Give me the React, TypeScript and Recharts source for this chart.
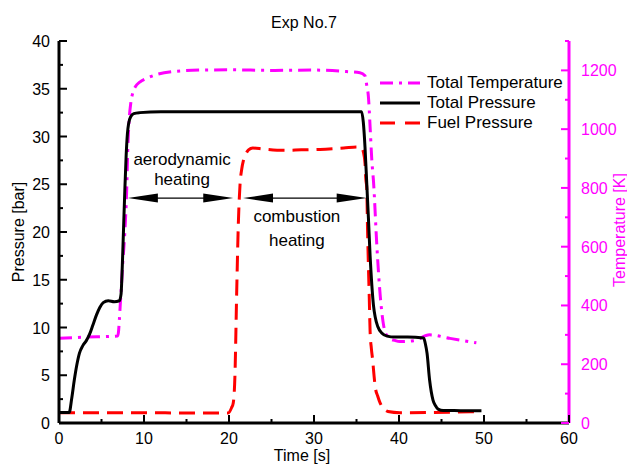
import React from "react";
import { LineChart, Line, XAxis, YAxis, ReferenceLine } from "recharts";

const FONT = "'Liberation Sans', Arial, sans-serif";
const MAGENTA = "#ff00ff";
const RED = "#ff0000";

// Total pressure [bar] vs time [s]
const pressureTime = [
  0, 1.2, 1.5, 1.8, 2.1, 2.4, 2.8, 3.2, 3.6, 4.0, 4.4, 4.8, 5.2, 5.8, 6.5, 7.1,
  7.3, 7.45, 7.6, 7.75, 7.9, 8.05, 8.2, 8.45, 8.8, 9.5, 12, 18, 24, 30, 35.6,
  35.8, 36.0, 36.2, 36.4, 36.6, 36.8, 37.0, 37.2, 37.5, 38.0, 38.6, 39.5, 41,
  42.9, 43.1, 43.3, 43.6, 44.0, 44.3, 44.6, 45.2, 46.5, 48, 49.7,
];
const pressureValue = [
  1.1, 1.1, 2.6, 4.5, 6.1, 7.3, 8.1, 8.6, 9.3, 10.3, 11.3, 12.1, 12.6, 12.8,
  12.7, 12.8, 13.5, 16.5, 20.5, 24.5, 28.0, 30.3, 31.4, 32.1, 32.4, 32.5, 32.6,
  32.6, 32.6, 32.6, 32.6, 31.5, 28.9, 25.2, 21.5, 17.5, 14.5, 12.3, 11.1, 10.1,
  9.4, 9.1, 9.0, 9.0, 8.9, 8.3, 7.3, 4.5, 2.4, 1.8, 1.45, 1.3, 1.3, 1.28, 1.28,
];

// Total temperature [K] vs time [s]
const tempTime = [
  0, 3, 6.9, 7.0, 7.1, 7.2, 7.35, 7.5, 7.65, 7.8, 7.95, 8.1, 8.25, 8.45, 8.7,
  9.0, 9.5, 10.3, 11.5, 13.4, 16.6, 20, 25, 30, 33.8, 35.4, 36.0, 36.2, 36.4,
  36.6, 36.8, 37.0, 37.4, 37.8, 38.15, 38.35, 38.7, 38.9, 39.5, 40.1, 41.7,
  43.6, 46.0, 49.1,
];
const tempValue = [
  288, 292, 296, 310, 350, 400, 470, 545, 605, 680, 780, 940, 1030, 1090, 1125,
  1145, 1160, 1173, 1186, 1196, 1201, 1202, 1200, 1201, 1196, 1192, 1182, 1150,
  1111, 1008, 895, 822, 600, 430, 339, 311, 294, 288, 281, 277, 280, 300, 288,
  273,
];

// Fuel pressure [bar] vs time [s]
const fuelTime = [
  0, 5, 10, 15, 19.9, 20.3, 20.5, 20.7, 20.9, 21.1, 21.3, 21.5, 21.7, 22.0,
  22.3, 22.8, 24, 26.4, 28.5, 30.7, 33.5, 35.2, 35.6, 35.8, 36.0, 36.1, 36.2,
  36.3, 36.4, 36.5, 36.6, 36.75, 36.9, 37.05, 37.2, 37.5, 37.8, 38.2, 38.7,
  40.1, 44, 47, 49.5,
];
const fuelValue = [
  1.08, 1.08, 1.08, 1.05, 1.05, 1.6, 2.1, 5.0, 13.5, 20.9, 25.0, 26.6, 27.5,
  28.2, 28.6, 28.8, 28.7, 28.55, 28.6, 28.65, 28.8, 28.9, 28.8, 28.4, 27.2,
  25.5, 24.7, 20.2, 16.5, 13.2, 9.6, 7.8, 6.6, 5.1, 3.8, 2.8, 2.06, 1.5, 1.2,
  1.08, 1.1, 1.15, 1.2,
];

const timeTicks = [0, 5, 10, 15, 20, 25, 30, 35, 40, 45, 50, 55, 60];
const pressureTicks = [
  0, 2.5, 5, 7.5, 10, 12.5, 15, 17.5, 20, 22.5, 25, 27.5, 30, 32.5, 35, 37.5, 40,
];
const tempTicks = [
  0, 100, 200, 300, 400, 500, 600, 700, 800, 900, 1000, 1100, 1200, 1300,
];

// arrows: [start, end] time, at a pressure level
const aeroArrow = [8.1, 20.5];
const combArrow = [21.65, 36.2];
const arrowLevel = 23.55;

const zip = (ts: number[], vs: number[]) => ts.map((t, i) => ({ t, v: vs[i] }));
const pressureData = zip(pressureTime, pressureValue);
const tempData = zip(tempTime, tempValue);
const fuelData = zip(fuelTime, fuelValue);

const BottomTick = (props: any) => {
  const { x, y, payload } = props;
  const major = payload.value % 10 === 0;
  return (
    <g>
      <line x1={x} x2={x} y1={y} y2={y - (major ? 8 : 4)} stroke="#000" strokeWidth={2} />
      {major && (
        <text x={x} y={y + 21} textAnchor="middle" fontSize={16} fontFamily={FONT} fill="#000">
          {payload.value}
        </text>
      )}
    </g>
  );
};

const TopTick = (props: any) => {
  const { x, y, payload } = props;
  const major = payload.value % 10 === 0;
  return <line x1={x} x2={x} y1={y} y2={y + (major ? 8 : 4)} stroke="#000" strokeWidth={2} />;
};

const LeftTick = (props: any) => {
  const { x, y, payload } = props;
  const major = payload.value % 5 === 0;
  return (
    <g>
      <line x1={x} x2={x + (major ? 8 : 4)} y1={y} y2={y} stroke="#000" strokeWidth={2} />
      {major && (
        <text x={x - 9} y={y + 6} textAnchor="end" fontSize={16} fontFamily={FONT} fill="#000">
          {payload.value}
        </text>
      )}
    </g>
  );
};

const RightTick = (props: any) => {
  const { x, y, payload } = props;
  const major = payload.value % 200 === 0;
  return (
    <g>
      <line x1={x} x2={x - (major ? 8 : 4)} y1={y} y2={y} stroke={MAGENTA} strokeWidth={2} />
      {major && (
        <text x={x + 12} y={y + 6} textAnchor="start" fontSize={16} fontFamily={FONT} fill={MAGENTA}>
          {payload.value}
        </text>
      )}
    </g>
  );
};

const arrowShape = (lines: string[], dx: number, dys: number[]) => (props: any) => {
  const { x1, y1, x2 } = props;
  const y = y1;
  const head = 30;
  const half = 4.5;
  const mid = (x1 + x2) / 2 + dx;
  return (
    <g>
      <line x1={x1 + head - 2} y1={y} x2={x2 - head + 2} y2={y} stroke="#000" strokeWidth={1.2} />
      <polygon points={`${x1},${y} ${x1 + head},${y - half} ${x1 + head},${y + half}`} fill="#000" />
      <polygon points={`${x2},${y} ${x2 - head},${y - half} ${x2 - head},${y + half}`} fill="#000" />
      {lines.map((s, i) => (
        <text key={i} x={mid} y={y + dys[i]} textAnchor="middle" fontSize={17} fontFamily={FONT} fill="#000">
          {s}
        </text>
      ))}
    </g>
  );
};

const legendItems = [
  { name: "Total Temperature", color: MAGENTA, dash: "13 6 3 6" },
  { name: "Total Pressure", color: "#000", dash: undefined },
  { name: "Fuel Pressure", color: RED, dash: "15 10" },
];

export default function App() {
  return (
    <div style={{ position: "absolute", left: 0, top: 0, width: 627, height: 466, background: "#fff", overflow: "hidden" }}>
      <LineChart width={627} height={466} margin={{ top: 41, right: 0, bottom: 0, left: 0 }}>
        <XAxis
          type="number"
          dataKey="t"
          domain={[0, 60]}
          ticks={timeTicks}
          interval={0}
          height={43}
          tickSize={0}
          tickMargin={0}
          tick={<BottomTick />}
          axisLine={{ stroke: "#000", strokeWidth: 3 }}
          allowDataOverflow
        />
        <XAxis
          xAxisId="top"
          orientation="top"
          type="number"
          dataKey="t"
          domain={[0, 60]}
          ticks={timeTicks}
          interval={0}
          height={0}
          tickSize={0}
          tickMargin={0}
          tick={<TopTick />}
          axisLine={{ stroke: "#000", strokeWidth: 3 }}
        />
        <YAxis
          yAxisId="left"
          type="number"
          domain={[0, 40]}
          ticks={pressureTicks}
          interval={0}
          width={59}
          tickSize={0}
          tickMargin={0}
          tick={<LeftTick />}
          axisLine={{ stroke: "#000", strokeWidth: 3 }}
        />
        <YAxis
          yAxisId="right"
          orientation="right"
          type="number"
          domain={[0, 1300]}
          ticks={tempTicks}
          interval={0}
          width={58}
          tickSize={0}
          tickMargin={0}
          tick={<RightTick />}
          axisLine={{ stroke: MAGENTA, strokeWidth: 3 }}
        />
        <Line
          data={fuelData}
          dataKey="v"
          yAxisId="left"
          type="monotone"
          stroke={RED}
          strokeWidth={3}
          strokeDasharray="16 8"
          dot={false}
          activeDot={false}
          isAnimationActive={false}
        />
        <Line
          data={tempData}
          dataKey="v"
          yAxisId="right"
          type="monotone"
          stroke={MAGENTA}
          strokeWidth={3}
          strokeDasharray="13 6 3 6"
          dot={false}
          activeDot={false}
          isAnimationActive={false}
        />
        <Line
          data={pressureData}
          dataKey="v"
          yAxisId="left"
          type="monotone"
          stroke="#000"
          strokeWidth={3}
          dot={false}
          activeDot={false}
          isAnimationActive={false}
        />
        <ReferenceLine
          yAxisId="left"
          segment={[
            { x: aeroArrow[0], y: arrowLevel },
            { x: aeroArrow[1], y: arrowLevel },
          ]}
          shape={arrowShape(["aerodynamic", "heating"], 1.5, [-33, -13])}
        />
        <ReferenceLine
          yAxisId="left"
          segment={[
            { x: combArrow[0], y: arrowLevel },
            { x: combArrow[1], y: arrowLevel },
          ]}
          shape={arrowShape(["combustion", "heating"], -8, [24, 48])}
        />
      </LineChart>

      <svg width={627} height={466} style={{ position: "absolute", left: 0, top: 0, pointerEvents: "none" }}>
        <text x={304} y={28} textAnchor="middle" fontSize={16} fontFamily={FONT} fill="#000">
          Exp No.7
        </text>
        <text
          x={0}
          y={0}
          transform="translate(24,232) rotate(-90)"
          textAnchor="middle"
          fontSize={16}
          fontFamily={FONT}
          fill="#000"
        >
          Pressure [bar]
        </text>
        <text
          x={0}
          y={0}
          transform="translate(625,230) rotate(-90)"
          textAnchor="middle"
          fontSize={16}
          fontFamily={FONT}
          fill={MAGENTA}
        >
          Temperature [K]
        </text>
        <text x={302} y={461} textAnchor="middle" fontSize={16} fontFamily={FONT} fill="#000">
          Time [s]
        </text>
      </svg>

      <div style={{ position: "absolute", left: 380, top: 73, fontFamily: FONT, fontSize: 17, color: "#000" }}>
        {legendItems.map((item) => (
          <div key={item.name} style={{ display: "flex", alignItems: "center", height: 20, whiteSpace: "nowrap" }}>
            <svg width={40} height={6} style={{ marginRight: 7 }}>
              <line x1={0} y1={3} x2={40} y2={3} stroke={item.color} strokeWidth={3} strokeDasharray={item.dash} />
            </svg>
            <span>{item.name}</span>
          </div>
        ))}
      </div>
    </div>
  );
}
